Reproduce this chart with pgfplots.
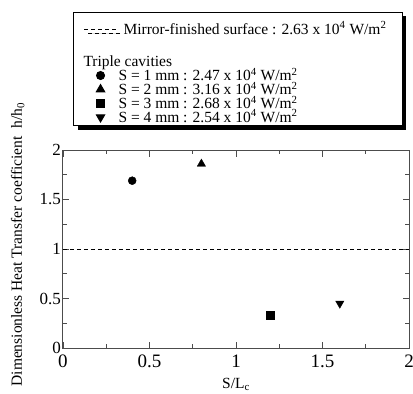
\documentclass[border=0pt]{standalone}
\usepackage{fontspec}
\setmainfont{Liberation Serif}
\usepackage{pgfplots}
\pgfplotsset{compat=1.18}
\usetikzlibrary{shadows}
\newcommand{\lr}{\rule[-4.3bp]{0pt}{11bp}}
\pgfplotsset{
  legmark/.style={legend image code/.code={\draw[mark repeat=2,mark phase=2,##1] plot coordinates {(0bp,5bp) (16.5bp,5bp) (33bp,5bp)};}},
  legline/.style={legend image code/.code={\draw[##1] (0bp,5bp) -- (32bp,5bp);}},
}
\begin{document}
\begin{tikzpicture}
\begin{axis}[
  name=ax,
  scale only axis, width=346bp, height=198bp,
  xmin=0, xmax=2, ymin=0, ymax=2,
  xtick={0,0.5,1,1.5,2}, ytick={0,0.5,1,1.5,2},
  minor x tick num=1, minor y tick num=1,
  tick align=inside,
  major tick length=6.5bp, minor tick length=4bp,
  axis line style={black!70, line width=1bp},
  every tick/.style={black!70, line width=0.8bp},
  tick label style={/pgf/number format/assume math mode=true},
  xticklabel style={font=\fontsize{19bp}{22bp}\selectfont, inner sep=0bp, yshift=-7bp},
  yticklabel style={font=\fontsize{17bp}{20bp}\selectfont, inner sep=0bp, xshift=-2bp},
  xlabel={S/L\textsubscript{c}},
  xlabel style={font=\fontsize{15.5bp}{18bp}\selectfont, at={(rel axis cs:0.5,-0.205)}, anchor=base},
  ylabel={Dimensionless Heat Transfer coefficient~~h/h\textsubscript{0}},
  ylabel style={font=\fontsize{15.5bp}{18bp}\selectfont, at={(rel axis cs:-0.1185,-0.212)}, anchor=base west},
  legend style={
    at={(rel axis cs:0.029,1.697)}, anchor=north west,
    draw=black, line width=1bp, fill=white,
    general shadow={fill=black, shadow xshift=4bp, shadow yshift=-4bp},
    inner xsep=10bp, inner ysep=2bp,
    font=\fontsize{15.5bp}{18bp}\selectfont,
    row sep=0pt,
    /tikz/every odd column/.append style={column sep=7bp},
    nodes={inner sep=0bp},
  },
  legend cell align=left,
  legend style={cells={anchor=base west}},
]
\addplot[black, line width=1bp, dash pattern=on 4bp off 3bp, legline] coordinates {(0,1) (2,1)};
\addlegendentry{\rule[-4.3bp]{0pt}{24bp}Mirror-finished surface : 2.63 x 10\textsuperscript{4} W/m\textsuperscript{2}\hspace*{6bp}}
\addlegendimage{empty legend}
\addlegendentry{\rule{0pt}{18.7bp}}
\addlegendimage{empty legend}
\addlegendentry{\lr\hspace*{-40bp}Triple cavities}
\addplot[only marks, mark=*, mark size=4bp, black, legmark] coordinates {(0.4,1.69)};
\addlegendentry{\lr\hspace*{-5bp}S = 1 mm : 2.47 x 10\textsuperscript{4} W/m\textsuperscript{2}}
\addplot[only marks, mark=triangle*, mark size=4.8bp, black, legmark] coordinates {(0.8,1.86)};
\addlegendentry{\lr\hspace*{-5bp}S = 2 mm : 3.16 x 10\textsuperscript{4} W/m\textsuperscript{2}}
\addplot[only marks, mark=square*, mark size=4bp, black, legmark] coordinates {(1.2,0.33)};
\addlegendentry{\lr\hspace*{-5bp}S = 3 mm : 2.68 x 10\textsuperscript{4} W/m\textsuperscript{2}}
\addplot[only marks, mark=triangle*, mark size=4.8bp, mark options={rotate=180}, black, legmark] coordinates {(1.6,0.45)};
\addlegendentry{\lr\hspace*{-5bp}S = 4 mm : 2.54 x 10\textsuperscript{4} W/m\textsuperscript{2}}
\end{axis}
\pgfresetboundingbox
\path[use as bounding box] ([shift={(-63bp,-46bp)}]ax.south west) rectangle ++(413bp,394bp);
\end{tikzpicture}
\end{document}
